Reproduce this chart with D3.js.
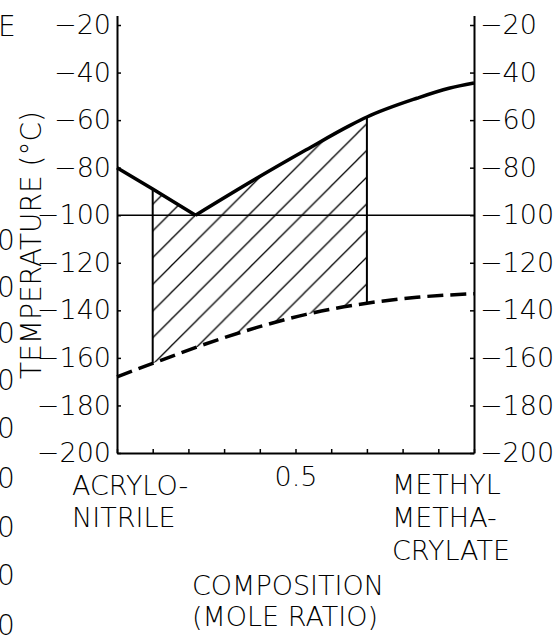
<!DOCTYPE html>
<html lang="en">
<head>
    <meta charset="UTF-8">
    <title>Glass transition vs composition</title>
    <script src="https://cdn.jsdelivr.net/npm/d3@7"></script>
    <style>
        body { margin: 0; background: #fff; }
        svg text { font-family: "DejaVu Sans", sans-serif; font-weight: 200; fill: #000; }
    </style>
</head>
<body>
    <div id="graphic"></div>

    <script>
        // Values: composition (mole ratio of MMA) vs temperature (°C)
        var upperComp = [0, 0.1, 0.22, 0.39, 0.53, 0.653, 0.7, 0.84, 0.93, 1.0];
        var upperTemp = [-80, -89, -100, -84.6, -72.5, -62.2, -58.7, -50.8, -46.6, -44.4];
        var lowerComp = [0, 0.1, 0.28, 0.39, 0.53, 0.7, 0.84, 1.0];
        var lowerTemp = [-168, -162.3, -152.5, -147.3, -141.7, -137, -134.5, -133];
        var hatchRange = [0.1, 0.7];
        var refTemp = -100;

        var tempTicks = [-20, -40, -60, -80, -100, -120, -140, -160, -180, -200];
        var compTicks = [0, 0.1, 0.2, 0.3, 0.4, 0.5, 0.6, 0.7, 0.8, 0.9, 1.0];
        var compLabeled = [0.5];
        var leftEndLabel = ["ACRYLO-", "NITRILE"];
        var rightEndLabel = ["METHYL", "METHA-", "CRYLATE"];
        var xTitle = ["COMPOSITION", "(MOLE RATIO)"];
        var yTitle = "TEMPERATURE (°C)";

        var width = 553;
        var height = 635;

        var svg = d3.select('#graphic')
                    .append('svg')
                    .attr('width', width)
                    .attr('height', height);

        var x = d3.scaleLinear().domain([0, 1]).range([117, 474]);
        var y = d3.scaleLinear().domain([-200, -16]).range([453, 15.5]);

        var upper = upperComp.map((c, i) => ({ c: c, t: upperTemp[i] }));
        var lower = lowerComp.map((c, i) => ({ c: c, t: lowerTemp[i] }));
        var vertexIdx = upperTemp.indexOf(d3.min(upperTemp));

        // interpolate a curve at a given composition (for the hatch edges)
        function valueAt(pts, c) {
            for (var i = 1; i < pts.length; i++) {
                if (c <= pts[i].c) {
                    var a = pts[i - 1], b = pts[i];
                    return a.t + (b.t - a.t) * (c - a.c) / (b.c - a.c);
                }
            }
            return pts[pts.length - 1].t;
        }

        // hatch pattern (45 degree thin lines)
        var defs = svg.append('defs');
        var hs = 26.7;
        defs.append('pattern')
            .attr('id', 'hatch')
            .attr('patternUnits', 'userSpaceOnUse')
            .attr('x', 9.9)
            .attr('width', hs)
            .attr('height', hs)
            .append('path')
            .attr('d', `M0,${hs} L${hs},0 M-3,3 L3,-3 M${hs - 3},${hs + 3} L${hs + 3},${hs - 3}`)
            .attr('stroke', '#000')
            .attr('stroke-width', 1.3);

        // hatched region between the two curves
        var hatchPts = upperComp.concat(lowerComp, hatchRange)
            .filter(c => c >= hatchRange[0] && c <= hatchRange[1]);
        hatchPts = Array.from(new Set(hatchPts)).sort((a, b) => a - b);
        var hatchData = hatchPts.map(c => ({ c: c, top: valueAt(upper, c), bot: valueAt(lower, c) }));

        svg.append('path')
            .datum(hatchData)
            .attr('d', d3.area().x(d => x(d.c)).y0(d => y(d.bot)).y1(d => y(d.top)))
            .attr('fill', 'url(#hatch)');

        // vertical edges of the hatched region
        svg.selectAll('.edge')
            .data(hatchRange)
            .join('line')
            .attr('class', 'edge')
            .attr('x1', d => x(d)).attr('x2', d => x(d))
            .attr('y1', d => y(valueAt(upper, d)))
            .attr('y2', d => y(valueAt(lower, d)))
            .attr('stroke', '#000')
            .attr('stroke-width', 2);

        // reference line at -100
        svg.append('line')
            .attr('x1', x(0)).attr('x2', x(1))
            .attr('y1', y(refTemp)).attr('y2', y(refTemp))
            .attr('stroke', '#000')
            .attr('stroke-width', 1.5);

        // upper solid curve: straight left branch, smooth right branch
        var lineLin = d3.line().x(d => x(d.c)).y(d => y(d.t));
        var lineSmooth = d3.line().x(d => x(d.c)).y(d => y(d.t)).curve(d3.curveMonotoneX);
        svg.append('path')
            .datum(upper.slice(0, vertexIdx + 1))
            .attr('d', lineLin)
            .attr('fill', 'none').attr('stroke', '#000').attr('stroke-width', 3.5);
        svg.append('path')
            .datum(upper.slice(vertexIdx))
            .attr('d', lineSmooth)
            .attr('fill', 'none').attr('stroke', '#000').attr('stroke-width', 3.5);

        // lower dashed curve
        svg.append('path')
            .datum(lower)
            .attr('d', lineSmooth)
            .attr('fill', 'none').attr('stroke', '#000').attr('stroke-width', 3.5)
            .attr('stroke-dasharray', '16,7');

        // axes
        var fmt = d3.format('d');
        var axisL = d3.axisLeft(y).tickValues(tempTicks).tickSize(-4).tickSizeOuter(0).tickPadding(6).tickFormat(fmt);
        var axisR = d3.axisRight(y).tickValues(tempTicks).tickSize(-4).tickSizeOuter(0).tickPadding(6).tickFormat(fmt);
        var axisB = d3.axisBottom(x).tickValues(compTicks).tickSize(-4).tickSizeOuter(0).tickPadding(14)
            .tickFormat(d => compLabeled.indexOf(d) >= 0 ? d3.format('.1f')(d) : '');

        function styleAxis(g) {
            g.select('.domain').attr('stroke-width', 2);
            g.selectAll('.tick line').attr('stroke-width', 1.5);
            g.selectAll('text').attr('font-size', 27).attr('font-family', null);
        }

        svg.append('g').attr('transform', `translate(${x(0)},0)`).call(axisL).call(styleAxis);
        svg.append('g').attr('transform', `translate(${x(1)},0)`).call(axisR).call(styleAxis);
        svg.append('g').attr('transform', `translate(0,${y(-200)})`).call(axisB).call(styleAxis);

        // end member labels
        svg.append('text')
            .attr('x', 72).attr('y', 495).attr('font-size', 27)
            .selectAll('tspan').data(leftEndLabel).join('tspan')
            .attr('x', 72).attr('dy', (d, i) => i ? 32 : 0).text(d => d);
        svg.append('text')
            .attr('x', 392).attr('y', 494).attr('font-size', 27)
            .selectAll('tspan').data(rightEndLabel).join('tspan')
            .attr('x', 392).attr('dy', (d, i) => i ? 33 : 0).text(d => d);

        // axis titles
        svg.append('text')
            .attr('y', 595).attr('font-size', 27)
            .selectAll('tspan').data(xTitle).join('tspan')
            .attr('x', 192).attr('dy', (d, i) => i ? 31 : 0).text(d => d);

        svg.append('text')
            .attr('transform', 'translate(41,245) rotate(-90)')
            .attr('text-anchor', 'middle')
            .attr('font-size', 28)
            .text(yTitle);

        // clipped remnants of the neighbouring figure along the left edge
        svg.append('text').attr('x', -2).attr('y', 36).attr('font-size', 28).text('E');
        var edgeRows = [240, 287, 333, 380, 428, 478, 527, 575, 625];
        svg.selectAll('.edge0')
            .data(edgeRows)
            .join('text')
            .attr('class', 'edge0')
            .attr('x', -3).attr('y', d => d).attr('dy', '0.35em')
            .attr('font-size', 28)
            .text('0');
    </script>
</body>
</html>
